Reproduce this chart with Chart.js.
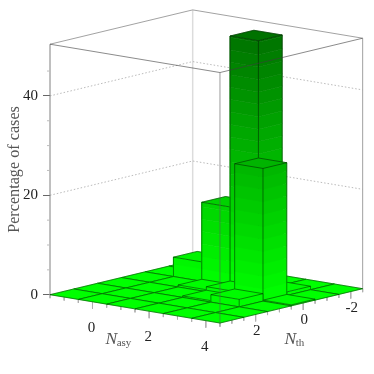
<!DOCTYPE html>
<html>
<head>
<meta charset="utf-8">
<style>html,body{margin:0;padding:0;background:#fff}canvas{display:block}</style>
<script src="https://cdn.jsdelivr.net/npm/chart.js@4/dist/chart.umd.min.js"></script>
</head>
<body>
<canvas id="bars3d" width="374" height="374"></canvas>
<script>
// percentage of cases per cell
var nasyCells = [-1, 0, 1, 2, 3, 4];
var nthCells = [-2, -1, 0, 1, 2, 3];
var casesRow_m1 = [0, 0, 0, 0, 0, 0];
var casesRow_0 = [0, 3.9, 0, 0, 0, 0];
var casesRow_1 = [0, 15.9, 0.4, 0, 0, 0];
var casesRow_2 = [0, 50.3, 1, 0.3, 0, 0];
var casesRow_3 = [0, 0.7, 26.7, 1.5, 0, 0];
var casesRow_4 = [0, 0, 0.2, 0, 0, 0];
var casesRows = [casesRow_m1, casesRow_0, casesRow_1, casesRow_2, casesRow_3, casesRow_4];

var nasyTicks = [0, 2, 4];
var nthTicks = [2, 0, -2];
var zTicksMajor = [0, 20, 40];
var zTicksMinor = [5, 10, 15, 25, 30, 35, 45];
var zGrid = [20, 40];

var NASY_MIN = -1.5, NASY_MAX = 4.5, NTH_MIN = -2.5, NTH_MAX = 3.5, Z_TOP = 50.4;
// orthographic view, px per unit
var NASY_DX = 28.33, NASY_DY = 4.72, NTH_DX = 23.78, NTH_DY = 5.72, Z_PX = 4.97;

function proj(a, t, z) {
    var A = a - NASY_MIN, B = NTH_MAX - t;
    return {x: A * NASY_DX + B * NTH_DX, y: z - (A * NASY_DY - B * NTH_DY) / Z_PX};
}
function heightColor(z) {
    var g = Math.round(255 - z / 50 * 140);
    return 'rgb(0,' + g + ',0)';
}

var back = [], front = [];
function addPoly(list, pts, color) {
    list.push({data: pts.concat([pts[0]]), showLine: true, fill: 'shape', backgroundColor: color,
        borderColor: color, borderWidth: 0.6, pointRadius: 0, clip: false, tension: 0});
}
function addLine(list, pts, color, width, dash) {
    list.push({data: pts, showLine: true, fill: false, borderColor: color, borderWidth: width,
        borderDash: dash || [], pointRadius: 0, clip: false, tension: 0});
}

var EDGE = 'rgba(0,30,0,0.65)';
var FRAME = '#8a8a8a';

// walls and back frame
addLine(back, [proj(NASY_MIN, NTH_MIN, 0), proj(NASY_MIN, NTH_MIN, Z_TOP)], '#dcdcdc', 1.5);
zGrid.forEach(function (z) {
    addLine(back, [proj(NASY_MIN, NTH_MAX, z), proj(NASY_MIN, NTH_MIN, z), proj(NASY_MAX, NTH_MIN, z)], '#aaa', 0.8, [1.5, 2]);
});
addLine(back, [proj(NASY_MIN, NTH_MAX, Z_TOP), proj(NASY_MIN, NTH_MIN, Z_TOP), proj(NASY_MAX, NTH_MIN, Z_TOP)], FRAME, 0.8);
addLine(back, [proj(NASY_MAX, NTH_MIN, 0), proj(NASY_MAX, NTH_MIN, Z_TOP)], '#a0a0a0', 1);
addLine(back, [proj(NASY_MIN, NTH_MAX, 0), proj(NASY_MIN, NTH_MAX, Z_TOP)], '#808080', 1);

// ticks
var TICK = '#b0b0b0';
function tickDown(p, px) {
    return [p, {x: p.x, y: p.y - px / Z_PX}];
}
for (var q = NASY_MIN; q <= NASY_MAX; q += 0.5) {
    addLine(back, tickDown(proj(q, NTH_MAX, 0), q % 2 === 0 ? 7 : 3.5), TICK, 1);
}
for (var r = NTH_MIN; r <= NTH_MAX; r += 0.5) {
    addLine(back, tickDown(proj(NASY_MAX, r, 0), r % 2 === 0 ? 7 : 3.5), TICK, 1);
}
zTicksMinor.forEach(function (z) {
    addLine(back, [{x: -3, y: z}, {x: 0, y: z}], '#bdbdbd', 1);
});

// bars, back to front
var cells = [];
nasyCells.forEach(function (a, i) {
    nthCells.forEach(function (t, j) {
        cells.push({a: a, t: t, z: casesRows[i][j]});
    });
});
cells.sort(function (p, q) { return (p.a + p.t) - (q.a + q.t) || (q.a - p.a); });

var BAND = 2.5;
cells.forEach(function (c) {
    var a0 = c.a - 0.5, a1 = c.a + 0.5, t0 = c.t - 0.5, t1 = c.t + 0.5;
    for (var z = 0; z < c.z; z += BAND) {
        var top = Math.min(z + BAND, c.z), col = heightColor(z + (top - z) / 2);
        addPoly(back, [proj(a0, t1, z), proj(a1, t1, z), proj(a1, t1, top), proj(a0, t1, top)], col);
        addPoly(back, [proj(a1, t1, z), proj(a1, t0, z), proj(a1, t0, top), proj(a1, t1, top)], col);
    }
    addPoly(back, [proj(a0, t0, c.z), proj(a1, t0, c.z), proj(a1, t1, c.z), proj(a0, t1, c.z)], heightColor(c.z));
    addLine(back, [proj(a0, t1, c.z), proj(a0, t0, c.z), proj(a1, t0, c.z), proj(a1, t1, c.z), proj(a0, t1, c.z)], EDGE, 0.8);
    if (c.z > 0) {
        addLine(back, [proj(a0, t1, 0), proj(a0, t1, c.z)], EDGE, 0.8);
        addLine(back, [proj(a1, t1, 0), proj(a1, t1, c.z)], EDGE, 0.8);
        addLine(back, [proj(a1, t0, 0), proj(a1, t0, c.z)], EDGE, 0.8);
        addLine(back, [proj(a0, t1, 0), proj(a1, t1, 0), proj(a1, t0, 0)], EDGE, 0.8);
    }
});

// front frame over the bars
addLine(front, [proj(NASY_MIN, NTH_MAX, Z_TOP), proj(NASY_MAX, NTH_MAX, Z_TOP), proj(NASY_MAX, NTH_MIN, Z_TOP)], 'rgba(60,60,60,0.75)', 0.8);
addLine(front, [proj(NASY_MAX, NTH_MAX, 0), proj(NASY_MAX, NTH_MAX, Z_TOP)], 'rgba(90,90,90,0.6)', 1);

var all = back.concat(front);
all.forEach(function (d, i) { d.order = all.length - i; });

var textPlugin = {
    id: 'floorText',
    afterDraw: function (chart) {
        var ctx = chart.ctx, sx = chart.scales.x, sy = chart.scales.y;
        function px(a, t, z) {
            var p = proj(a, t, z);
            return {x: sx.getPixelForValue(p.x), y: sy.getPixelForValue(p.y)};
        }
        ctx.save();
        ctx.font = '15px "Liberation Serif"';
        ctx.fillStyle = '#222';
        ctx.textAlign = 'center';
        ctx.textBaseline = 'middle';
        nasyTicks.forEach(function (v) {
            var p = px(v, NTH_MAX, 0);
            ctx.fillText(String(v), p.x - 1, p.y + 26);
        });
        nthTicks.forEach(function (v) {
            var p = px(NASY_MAX, v, 0);
            ctx.fillText(String(v), p.x + 1, p.y + 17);
        });
        ctx.textAlign = 'left';
        ctx.textBaseline = 'alphabetic';
        ctx.fillStyle = '#555';
        function subLabel(x, y, sub) {
            ctx.font = 'italic 17.5px "Liberation Serif"';
            ctx.fillText('N', x, y);
            var w = ctx.measureText('N').width;
            ctx.font = '11px "Liberation Serif"';
            ctx.fillText(sub, x + w - 0.5, y + 2);
        }
        subLabel(105.5, 344, 'asy');
        subLabel(284.5, 344, 'th');
        ctx.restore();
    }
};

new Chart(document.getElementById('bars3d').getContext('2d'), {
    type: 'scatter',
    data: {datasets: all},
    options: {
        responsive: false,
        animation: false,
        // plot area is taller than the axis so the filler does not clip the bars and floor
        layout: {padding: {top: 5, bottom: 40, right: 11.3, left: 0}},
        plugins: {legend: {display: false}, tooltip: {enabled: false}},
        scales: {
            x: {type: 'linear', display: false, min: 0, max: 312.7},
            y: {
                type: 'linear',
                min: (294.7 - 334) / Z_PX,
                max: (294.7 - 5) / Z_PX,
                afterFit: function (s) { s.width = 50; s.paddingTop = 0; s.paddingBottom = 0; },
                afterBuildTicks: function (s) {
                    s.ticks = zTicksMajor.map(function (v) { return {value: v}; });
                },
                border: {display: false},
                grid: {drawOnChartArea: false, tickLength: 7, tickColor: '#666'},
                title: {display: true, text: 'Percentage of cases', color: '#555',
                    font: {family: '"Liberation Serif"', size: 16.2}, padding: {top: 5, bottom: 3}},
                ticks: {color: '#222', padding: 5, font: {family: '"Liberation Serif"', size: 15}}
            }
        }
    },
    plugins: [textPlugin]
});
</script>
</body>
</html>
